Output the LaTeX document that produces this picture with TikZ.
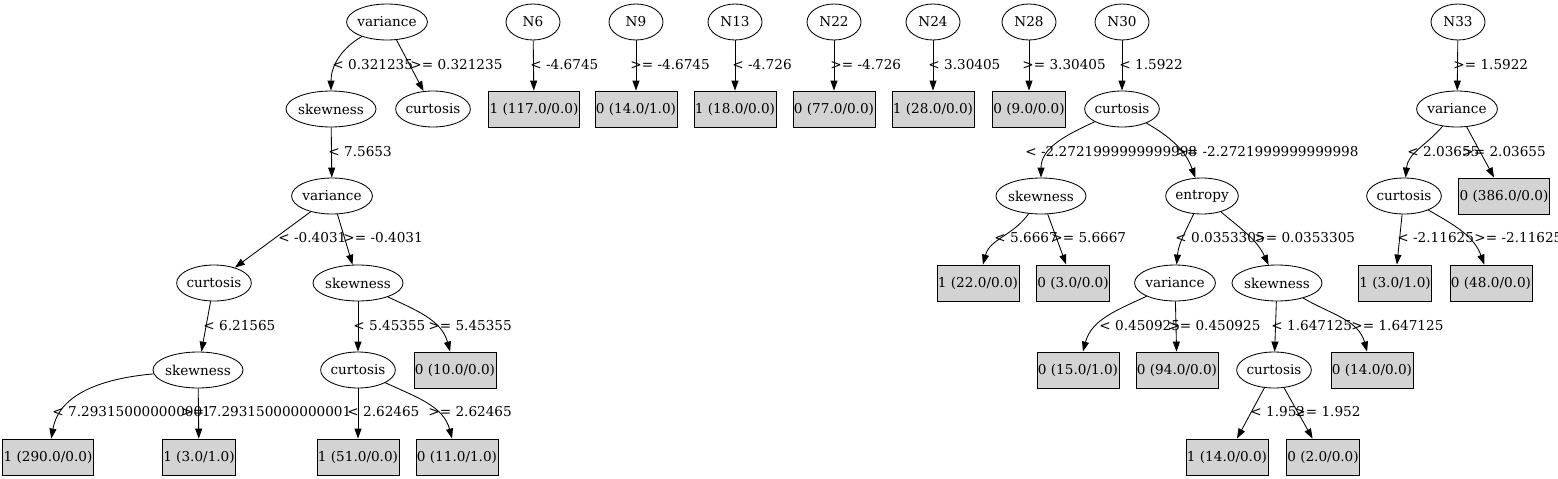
\documentclass[tikz,border=0pt]{standalone}
\usepackage{fontspec}
\setmainfont{DejaVu Serif}
\usetikzlibrary{arrows.meta,shapes.geometric}
\definecolor{leafgray}{RGB}{211,211,211}

\begin{document}
\begin{tikzpicture}[x=1pt,y=-1pt,>={Triangle[length=10pt,width=7pt]},
 font=\fontsize{13.6}{16}\selectfont,line width=0.85pt,
 attr/.style={draw,ellipse,minimum height=36pt,inner xsep=-1pt,inner ysep=0pt},
 nid/.style={attr,minimum width=54pt},
 leaf/.style={draw,fill=leafgray,minimum height=36pt,inner xsep=1pt,inner ysep=0pt},
 lbl/.style={anchor=west,inner sep=0pt}]
 \useasboundingbox (0,0) rectangle (1558,479);
 % first tree
 \node[attr] (V1) at (387,22) {variance};
 \node[attr] (S1) at (331,109) {skewness};
 \node[attr] (C1) at (433,109) {curtosis};
 \node[attr] (V2) at (332,196) {variance};
 \node[attr] (C2) at (214,283) {curtosis};
 \node[attr] (S2) at (358,283) {skewness};
 \node[attr] (S3) at (198,370) {skewness};
 \node[attr] (C3) at (358,370) {curtosis};
 \node[leaf] (L1) at (455,370) {0 (10.0/0.0)};
 \node[leaf] (L2) at (48,457) {1 (290.0/0.0)};
 \node[leaf] (L3) at (199,457) {1 (3.0/1.0)};
 \node[leaf] (L4) at (358,457) {1 (51.0/0.0)};
 \node[leaf] (L5) at (457,457) {0 (11.0/1.0)};
 % single splits
 \node[nid] (N6) at (533,22) {N6};
 \node[nid] (N9) at (636,22) {N9};
 \node[nid] (N13) at (735,22) {N13};
 \node[nid] (N22) at (834,22) {N22};
 \node[nid] (N24) at (933,22) {N24};
 \node[nid] (N28) at (1029,22) {N28};
 \node[leaf] (L6) at (534,109) {1 (117.0/0.0)};
 \node[leaf] (L7) at (636,109) {0 (14.0/1.0)};
 \node[leaf] (L8) at (735,109) {1 (18.0/0.0)};
 \node[leaf] (L9) at (834,109) {0 (77.0/0.0)};
 \node[leaf] (L10) at (933,109) {1 (28.0/0.0)};
 \node[leaf] (L11) at (1029,109) {0 (9.0/0.0)};
 % N30
 \node[nid] (N30) at (1122,22) {N30};
 \node[attr] (C4) at (1122,109) {curtosis};
 \node[attr] (S4) at (1041,196) {skewness};
 \node[attr] (E1) at (1202,196) {entropy};
 \node[leaf] (L12) at (978,283) {1 (22.0/0.0)};
 \node[leaf] (L13) at (1073,283) {0 (3.0/0.0)};
 \node[attr] (V3) at (1175,283) {variance};
 \node[attr] (S5) at (1277,283) {skewness};
 \node[leaf] (L14) at (1078,370) {0 (15.0/1.0)};
 \node[leaf] (L15) at (1177,370) {0 (94.0/0.0)};
 \node[attr] (C5) at (1274,370) {curtosis};
 \node[leaf] (L16) at (1372,370) {0 (14.0/0.0)};
 \node[leaf] (L17) at (1227,457) {1 (14.0/0.0)};
 \node[leaf] (L18) at (1323,457) {0 (2.0/0.0)};
 % N33
 \node[nid] (N33) at (1458,22) {N33};
 \node[attr] (V4) at (1457,109) {variance};
 \node[attr] (C6) at (1404,196) {curtosis};
 \node[leaf] (L19) at (1504,196) {0 (386.0/0.0)};
 \node[leaf] (L20) at (1395,283) {1 (3.0/1.0)};
 \node[leaf] (L21) at (1491,283) {0 (48.0/0.0)};

 \path[->]
 (V1) edge[out=-150,in=90] (S1)
 (V1) edge (C1)
 (S1) edge (V2)
 (V2) edge (C2)
 (V2) edge (S2)
 (C2) edge (S3)
 (S2) edge (C3)
 (S2) edge[out=-25,in=105] (L1)
 (S3) edge[out=185,in=80] (L2)
 (S3) edge (L3)
 (C3) edge (L4)
 (C3) edge[out=-25,in=105] (L5)
 (N6) edge (L6)
 (N9) edge (L7)
 (N13) edge (L8)
 (N22) edge (L9)
 (N24) edge (L10)
 (N28) edge (L11)
 (N30) edge (C4)
 (C4) edge[out=-155,in=90] (S4)
 (C4) edge[out=-30,in=110] (E1)
 (S4) edge[out=-125,in=75] (L12)
 (S4) edge (L13)
 (E1) edge[out=-115,in=85] (V3)
 (E1) edge[out=-40,in=115] (S5)
 (V3) edge[out=-155,in=75] (L14)
 (V3) edge (L15)
 (S5) edge (C5)
 (S5) edge[out=-30,in=105] (L16)
 (C5) edge (L17)
 (C5) edge (L18)
 (N33) edge (V4)
 (V4) edge[out=-130,in=85] (C6)
 (V4) edge (L19)
 (C6) edge (L20)
 (C6) edge[out=-30,in=110] (L21);

 % edge labels
 \node[lbl] at (332,65) {< 0.321235};
 \node[lbl] at (410,65) {>= 0.321235};
 \node[lbl] at (328,152) {< 7.5653};
 \node[lbl] at (278,238) {< -0.4031};
 \node[lbl] at (343,238) {>= -0.4031};
 \node[lbl] at (203,326) {< 6.21565};
 \node[lbl] at (353,326) {< 5.45355};
 \node[lbl] at (428,326) {>= 5.45355};
 \node[lbl] at (52,412) {< 7.293150000000001};
 \node[lbl] at (181,412) {>= 7.293150000000001};
 \node[lbl] at (347,412) {< 2.62465};
 \node[lbl] at (428,412) {>= 2.62465};
 \node[lbl] at (530,65) {< -4.6745};
 \node[lbl] at (630,65) {>= -4.6745};
 \node[lbl] at (732,65) {< -4.726};
 \node[lbl] at (830,65) {>= -4.726};
 \node[lbl] at (928,65) {< 3.30405};
 \node[lbl] at (1022,65) {>= 3.30405};
 \node[lbl] at (1119,65) {< 1.5922};
 \node[lbl] at (1453,65) {>= 1.5922};
 \node[lbl] at (1025,152) {< -2.2721999999999998};
 \node[lbl] at (1175,152) {>= -2.2721999999999998};
 \node[lbl] at (1407,152) {< 2.03655};
 \node[lbl] at (1462,152) {>= 2.03655};
 \node[lbl] at (994,238) {< 5.6667};
 \node[lbl] at (1051,238) {>= 5.6667};
 \node[lbl] at (1175,238) {< 0.0353305};
 \node[lbl] at (1254,238) {>= 0.0353305};
 \node[lbl] at (1397,238) {< -2.11625};
 \node[lbl] at (1474,238) {>= -2.11625};
 \node[lbl] at (1099,326) {< 0.450925};
 \node[lbl] at (1168,326) {>= 0.450925};
 \node[lbl] at (1271,326) {< 1.647125};
 \node[lbl] at (1351,326) {>= 1.647125};
 \node[lbl] at (1250,412) {< 1.952};
 \node[lbl] at (1294,412) {>= 1.952};
\end{tikzpicture}
\end{document}
